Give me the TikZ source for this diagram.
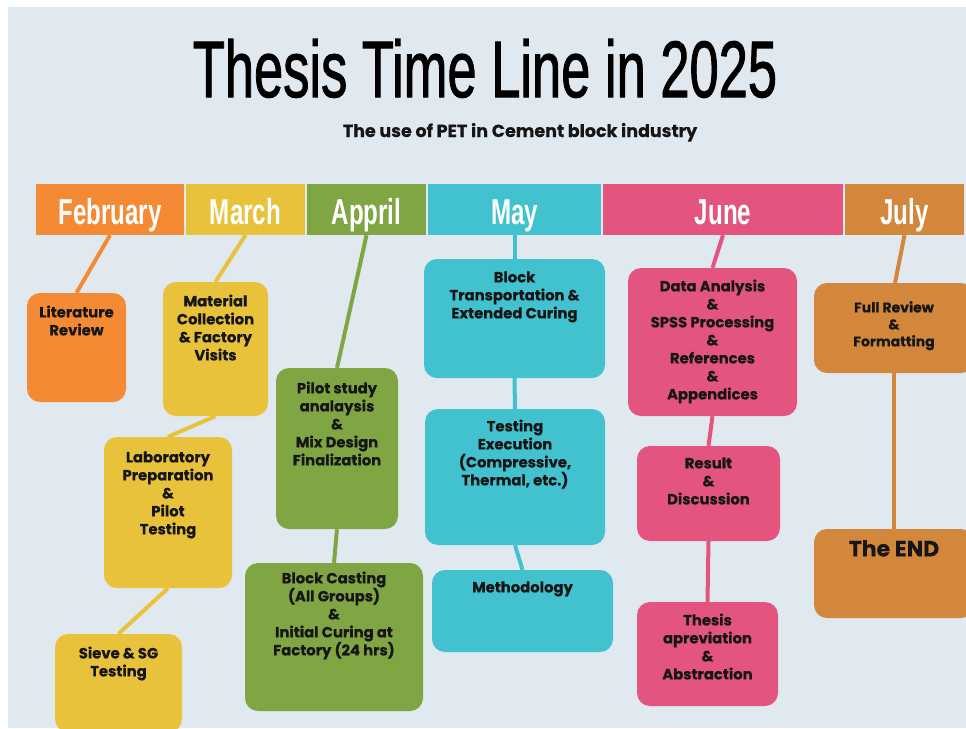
\documentclass[tikz,border=0pt]{standalone}
\usepackage{graphicx}
\usepackage{fontspec}
\setmainfont{Poppins}[BoldFeatures={FakeBold=0.4}]
\newfontfamily\condfont{Liberation Sans}
\newfontfamily\titlefont{Liberation Sans}[FakeBold=1.5]
\definecolor{bgc}{HTML}{E1E9F0}
\definecolor{febc}{HTML}{F58A35}
\definecolor{marc}{HTML}{E9C23C}
\definecolor{aprc}{HTML}{80A643}
\definecolor{mayc}{HTML}{42C1CE}
\definecolor{junc}{HTML}{E3557F}
\definecolor{julc}{HTML}{D3873A}
\definecolor{txtc}{HTML}{161616}
\newcommand\bxt[4]{\parbox[c][#2pt][t]{#1pt}{\centering\rule{0pt}{\dimexpr #3pt+10.4pt\relax}#4}}
\tikzset{
  monthbar/.style={fill=#1, inner sep=0pt, text=white, text height=29pt, text depth=0pt,
    minimum height=51pt, font=\condfont\bfseries\fontsize{36}{36}\selectfont},
  tbox/.style={fill=#1, rounded corners=13pt, inner sep=0pt, text=txtc,
    font=\bfseries\fontsize{14.8}{18}\selectfont},
  conn/.style={draw=#1, line width=4pt},
}
\begin{document}
\begin{tikzpicture}[x=1pt,y=-1pt]
\useasboundingbox (0,0) rectangle (966,728);
\clip (0,0) rectangle (966,728);
\fill[white] (0,0) rectangle (966,728);
\fill[bgc] (8,7) rectangle (966,728);

\node[anchor=base, font=\titlefont\fontsize{80}{80}\selectfont] (title) at (485,97)
  {\scalebox{0.656}[1]{Thesis Time Line in 2025}};
\node[anchor=base, font=\bfseries\fontsize{17.5}{18}\selectfont, text=txtc] (sub) at (520,137)
  {The use of PET in Cement block industry};

% month bar
\node[monthbar=febc, minimum width=148pt] (febbar) at (110,209.5) {\scalebox{0.67}[1]{February}};
\node[monthbar=marc, minimum width=119pt] (marbar) at (245.5,209.5) {\scalebox{0.67}[1]{March}};
\node[monthbar=aprc, minimum width=119pt] (aprbar) at (366.5,209.5) {\scalebox{0.67}[1]{Appril}};
\node[monthbar=mayc, minimum width=173pt] (maybar) at (514.5,209.5) {\scalebox{0.67}[1]{May}};
\node[monthbar=junc, minimum width=240pt] (junbar) at (723,209.5) {\scalebox{0.67}[1]{June}};
\node[monthbar=julc, minimum width=119pt] (julbar) at (904.5,209.5) {\scalebox{0.67}[1]{July}};

% boxes
\node[tbox=febc] (lit) at (76.5,347.5) {\bxt{99}{109}{14}{Literature\\Review}};
\node[tbox=marc] (mat) at (215.5,349) {\bxt{105}{134}{14}{Material\\Collection\\\& Factory\\Visits}};
\node[tbox=marc] (lab) at (168,512.5) {\bxt{128}{151}{15}{Laboratory\\Preparation\\\&\\Pilot\\Testing}};
\node[tbox=marc] (sieve) at (118.5,683) {\bxt{127}{98}{14}{Sieve \& SG\\Testing}};
\node[tbox=aprc] (pilot) at (337,448.5) {\bxt{122}{161}{15}{Pilot study\\analaysis\\\&\\Mix Design\\Finalization}};
\node[tbox=aprc] (cast) at (334,637) {\bxt{178}{148}{10}{Block Casting\\(All Groups)\\\&\\Initial Curing at\\Factory (24 hrs)}};
\node[tbox=mayc] (bt) at (514.5,318.5) {\bxt{181}{119}{13}{Block\\Transportation \&\\Extended Curing}};
\node[tbox=mayc] (te) at (515,477) {\bxt{180}{136}{12}{Testing\\Execution\\(Compressive,\\Thermal, etc.)}};
\node[tbox=mayc] (meth) at (522.5,611) {\bxt{181}{82}{12}{Methodology}};
\node[tbox=junc] (da) at (712.5,342) {\bxt{169}{148}{13}{Data Analysis\\\&\\SPSS Processing\\\&\\References\\\&\\Appendices}};
\node[tbox=junc] (rd) at (708.5,493.5) {\bxt{143}{95}{12}{Result\\\&\\Discussion}};
\node[tbox=junc] (ta) at (707.5,654) {\bxt{141}{104}{13}{Thesis\\apreviation\\\&\\Abstraction}};
\node[tbox=julc, font=\bfseries\fontsize{14}{17}\selectfont] (fr) at (894,328) {\bxt{160}{90}{19}{Full Review\\\&\\Formatting}};
\node[tbox=julc, font=\bfseries\fontsize{22}{24}\selectfont] (end) at (894,573.5) {\bxt{160}{89}{17}{The END}};

% connectors
\draw[conn=febc] (febbar.south) -- (lit.north);
\draw[conn=marc] (marbar.south) -- (mat.north);
\draw[conn=marc] (mat.south) -- (lab.north);
\draw[conn=marc] (lab.south) -- (sieve.north);
\draw[conn=aprc] (aprbar.south) -- (pilot.north);
\draw[conn=aprc] (pilot.south) -- (cast.north);
\draw[conn=mayc] (maybar.south) -- (bt.north);
\draw[conn=mayc] (bt.south) -- (te.north);
\draw[conn=mayc] (te.south) -- (meth.north);
\draw[conn=junc] (junbar.south) -- (da.north);
\draw[conn=junc] (da.south) -- (rd.north);
\draw[conn=junc] (rd.south) -- (ta.north);
\draw[conn=julc] (julbar.south) -- ([xshift=1pt]fr.north);
\draw[conn=julc] (fr.south) -- (end.north);
\end{tikzpicture}
\end{document}
